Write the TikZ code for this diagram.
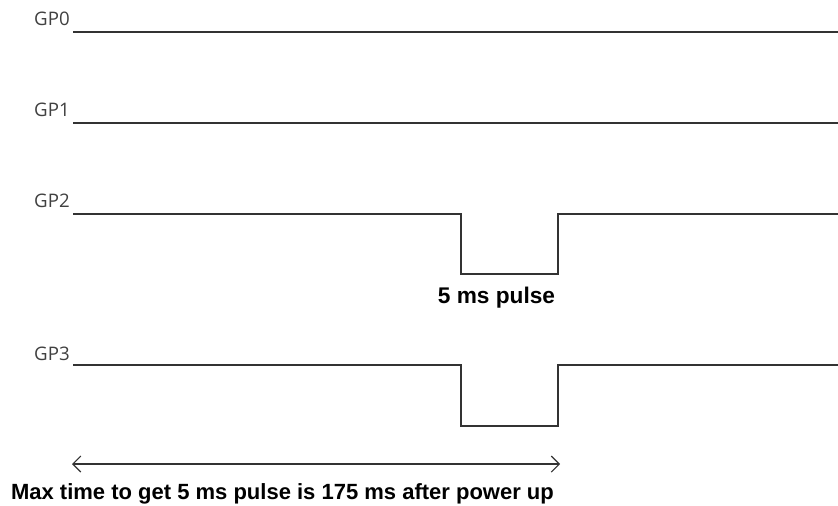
\documentclass[tikz,border=0pt]{standalone}
\usepackage{fontspec}
\setmainfont{Liberation Sans}
\newfontfamily\pinfont{Open Sans}
\usetikzlibrary{arrows.meta}
\definecolor{wire}{HTML}{333333}
\definecolor{pingray}{HTML}{404040}
\tikzset{
  sig/.style={draw=wire, line width=0.9pt},
  pinname/.style={anchor=base east, inner sep=0pt, text=pingray,
    font=\pinfont\fontsize{14pt}{16pt}\selectfont},
  caption/.style={anchor=base, inner sep=0pt,
    font=\bfseries\fontsize{16.5pt}{20pt}\selectfont},
  barb/.tip={Straight Barb[length=6pt,width=12pt]}
}
\begin{document}
\begin{tikzpicture}[x=0.75pt,y=-0.75pt]
			\useasboundingbox (0,0) rectangle (838,506);
			% pin names
			\node [pinname] (gp0) at (70,26) {GP0};
			\node [pinname] (gp1) at (70,117) {GP1};
			\node [pinname] (gp2) at (70,207) {GP2};
			\node [pinname] (gp3) at (70,360) {GP3};

			% signals
			\draw [sig] (73,32) -- (838,32);
			\draw [sig] (73,123) -- (838,123);
			\draw [sig] (73,214) -- (461,214) -- (461,274) -- (558,274) -- (558,214) -- (838,214);
			\draw [sig] (73,365) -- (461,365) -- (461,426) -- (558,426) -- (558,365) -- (838,365);
			\node [caption, font=\bfseries\fontsize{17pt}{20pt}\selectfont] (pulse) at (496.5,303) {5 ms pulse};

			% time span
			\coordinate (powerup) at (72,464);
			\coordinate (deadline) at (560,464);
			\draw [sig, line width=0.8pt, barb-barb] (powerup) -- (deadline);
			\node [caption] (note) at (282.5,499) {Max time to get 5 ms pulse is 175 ms after power up};
\end{tikzpicture}
\end{document}
